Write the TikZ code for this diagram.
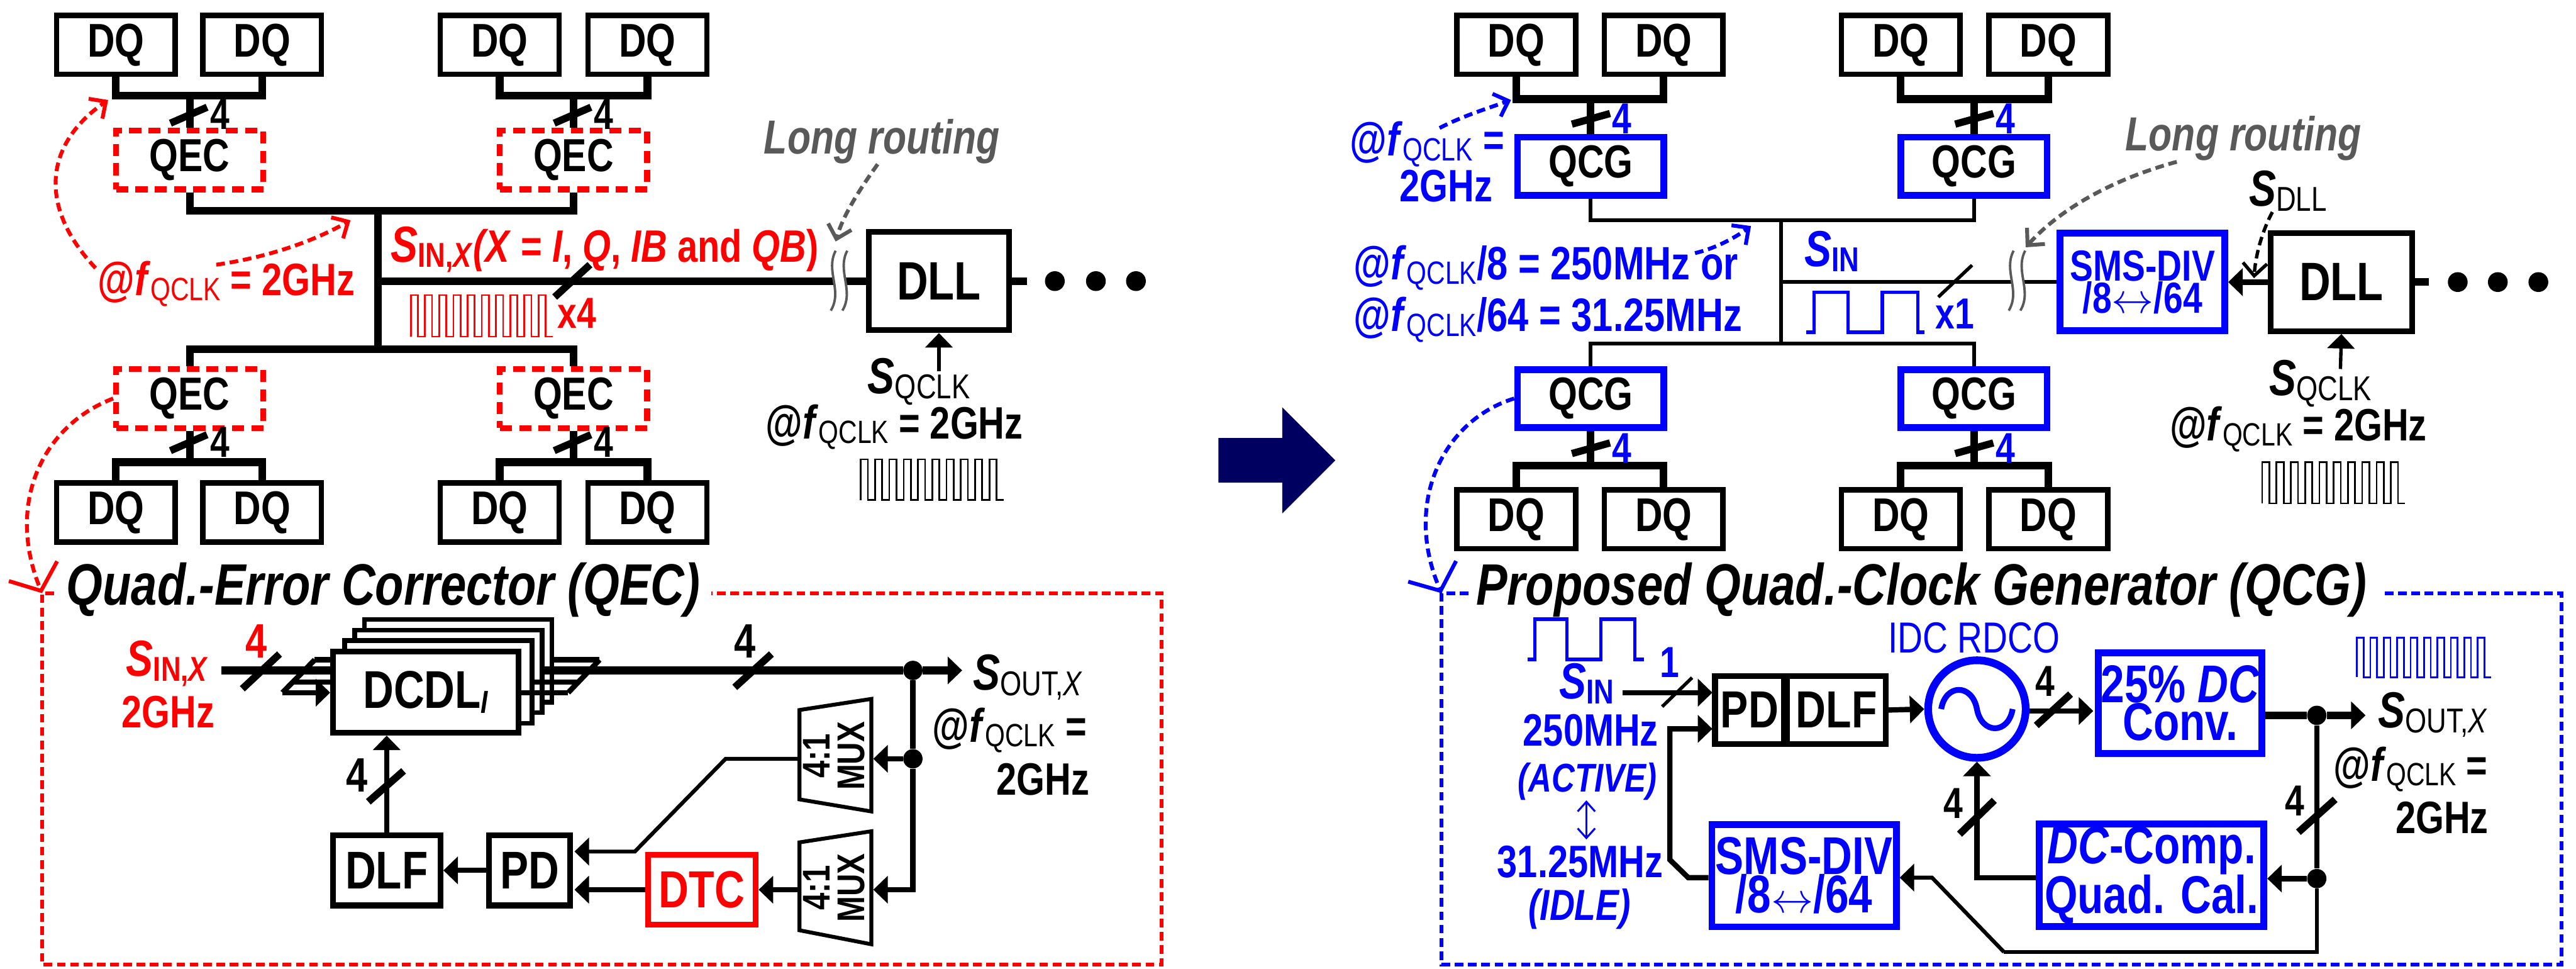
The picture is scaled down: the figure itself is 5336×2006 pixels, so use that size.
\documentclass[tikz,border=0pt]{standalone}
\usepackage{fontspec}
\usetikzlibrary{arrows.meta,calc}
\setmainfont[FakeStretch=0.8]{Liberation Sans}
\newdimen\pxu
\pxu=0.1mm
\newcommand{\pxfont}[1]{\fontsize{#1\pxu}{#1\pxu}\selectfont}
\newcommand{\sig}[3]{{\pxfont{#1}\textit{#2}\raisebox{-0.1em}{\pxfont{\fpeval{0.68*#1}}\mdseries#3}}}
\newcommand{\fq}[1]{{\pxfont{#1}@\textit{f}\raisebox{-0.1em}{\pxfont{\fpeval{0.68*#1}}\mdseries QCLK}}}
\newcommand{\clkwave}[5]{\draw[line width=0.35mm,#1] (#2,#3) foreach \i in {1,...,10}{ -- ++(0,#4) -- ++(#5,0) -- ++(0,-#4) -- ++(#5,0)};}
\newcommand{\wirebreak}[1]{
  \draw[line width=2.6mm,white] ($#1+(12,-62)$) .. controls ($#1+(-10,-20)$) and ($#1+(27,20)$) .. ($#1+(2,62)$);
  \draw[line width=0.5mm,draw=routegray] ($#1+(0,-62)$) .. controls ($#1+(-22,-20)$) and ($#1+(15,20)$) .. ($#1+(-10,62)$);
  \draw[line width=0.5mm,draw=routegray] ($#1+(24,-62)$) .. controls ($#1+(2,-20)$) and ($#1+(39,20)$) .. ($#1+(14,62)$);
}
\definecolor{routegray}{HTML}{595959}
\definecolor{qred}{HTML}{FF0000}
\definecolor{qblue}{HTML}{0000FF}
\definecolor{qnavy}{HTML}{000060}
\tikzset{
  >={Triangle[length=3mm,width=5.6mm]},
  openhead/.style={-{Straight Barb[length=2.6mm,width=5mm]}},
  widehead/.style={-{Straight Barb[length=4.4mm,width=10.8mm]}},
  dqbox/.style={draw,line width=1.1mm,fill=white,minimum width=24.6mm,minimum height=12.2mm,inner sep=0pt,font=\pxfont{98}\bfseries},
  qecbox/.style={draw=qred,line width=1.2mm,dash pattern=on 2.5mm off 1.5mm,minimum width=30.5mm,minimum height=12.2mm,inner sep=0pt,font=\pxfont{96}\bfseries},
  qcgbox/.style={draw=qblue,line width=1.4mm,minimum width=30.3mm,minimum height=12mm,inner sep=0pt,font=\pxfont{96}\bfseries},
  blockbox/.style={draw,line width=1.2mm,fill=white,inner sep=0pt,align=center,font=\pxfont{110}\bfseries},
  blueblock/.style={draw=qblue,text=qblue,line width=1.4mm,inner sep=0pt,align=center},
  thickbus/.style={line width=1.6mm},
  thinbus/.style={line width=0.8mm},
  wire/.style={line width=1.1mm},
  thinwire/.style={line width=0.7mm},
  tickbold/.style={line width=1.5mm},
  tickthin/.style={line width=0.7mm},
  lbl/.style={inner sep=0pt,anchor=base west,font=\bfseries},
  num/.style={inner sep=0pt,font=\pxfont{90}\bfseries},
  dot/.style={circle,fill,inner sep=0pt,minimum size=4mm},
  reddash/.style={draw=qred,line width=0.8mm,dash pattern=on 1.8mm off 1mm},
  bluedash/.style={draw=qblue,line width=0.8mm,dash pattern=on 1.8mm off 1mm},
  graydash/.style={draw=routegray,line width=0.8mm,dash pattern=on 1.8mm off 1mm},
  frameline/.style={line width=0.8mm,dash pattern=on 1.8mm off 0.95mm}
}
\begin{document}
\begin{tikzpicture}[x=0.1mm,y=-0.1mm]
  \useasboundingbox (0,0) rectangle (5336,2006);

  \node[dqbox] (dqa) at (240,93) {DQ};
  \node[dqbox] (dqb) at (543,93) {DQ};
  \node[dqbox] (dqc) at (1035,93) {DQ};
  \node[dqbox] (dqd) at (1341,93) {DQ};
  \node[dqbox] (dqe) at (240,1061) {DQ};
  \node[dqbox] (dqf) at (543,1061) {DQ};
  \node[dqbox] (dqg) at (1035,1061) {DQ};
  \node[dqbox] (dqh) at (1341,1061) {DQ};
  \node[qecbox] (qeca) at (393,331) {QEC};
  \node[qecbox] (qecb) at (1188,331) {QEC};
  \node[qecbox] (qecc) at (393,825) {QEC};
  \node[qecbox] (qecd) at (1188,825) {QEC};
  \coordinate (busa) at (393,198);
  \coordinate (busb) at (1188,198);
  \coordinate (busc) at (393,957);
  \coordinate (busd) at (1188,957);
  \coordinate (spinetop) at (783,436);
  \coordinate (spinebot) at (783,723);
  \coordinate (spinemid) at (783,582);
  \node[blockbox,minimum width=29.1mm,minimum height=20.3mm,font=\pxfont{112}\bfseries] (dlla) at (1945,582) {DLL};
  \draw[thickbus] (dqa.south) |- (busa) -| (dqb.south);
  \draw[thickbus] (dqc.south) |- (busb) -| (dqd.south);
  \draw[thickbus] (dqe.north) |- (busc) -| (dqf.north);
  \draw[thickbus] (dqg.north) |- (busd) -| (dqh.north);
  \draw[thickbus] (busa) -- (qeca.north);
  \draw[thickbus] (busb) -- (qecb.north);
  \draw[thickbus] (busc) -- (qecc.south);
  \draw[thickbus] (busd) -- (qecd.south);
  \draw[thickbus] (qeca.south) |- (spinetop) -| (qecb.south);
  \draw[thickbus] (qecc.north) |- (spinebot) -| (qecd.north);
  \draw[thickbus] (spinetop) -- (spinebot);
  \draw[thickbus] (spinemid) -- (dlla.west);
  \wirebreak{(1731,581)}
  \draw[tickbold] (353,255) -- (429,222);
  \draw[tickbold] (1148,255) -- (1224,222);
  \draw[tickbold] (353,933) -- (429,900);
  \draw[tickbold] (1148,933) -- (1224,900);
  \draw[tickbold] (1149,615) -- (1222,548);
  \node[num] (nama) at (456,237) {4};
  \node[num] (namb) at (1251,237) {4};
  \node[num] (namc) at (456,915) {4};
  \node[num] (namd) at (1251,915) {4};
  \node[lbl,text=qred] (sinx) at (809,542) {\sig{105}{S}{\bfseries IN,\textit{X}}{\pxfont{94}\textit{(X} = \textit{I}, \textit{Q}, \textit{IB} and \textit{QB})}};
  \node[lbl,text=qred] (fqred) at (202,612) {\fq{98}{\pxfont{94} = 2GHz}};
  \clkwave{draw=qred}{851}{697}{-86}{14.7}
  \node[num,text=qred] (xfour) at (1195,648) {x4};
  \draw[reddash,openhead] (198,555) .. controls (80,430) and (90,300) .. (224,207);
  \draw[reddash,openhead] (448,548) .. controls (540,535) and (640,505) .. (726,456);
  \coordinate (framecorna) at (87,1228);
  \draw[reddash,widehead] (qecc.west) .. controls (90,880) and (10,1040) .. (framecorna);
  \draw[thickbus] (dlla.east) -- (2127,582);
  \node[dot,minimum size=4.1mm] (dota) at (2185,582) {};
  \node[dot,minimum size=4.1mm] (dotb) at (2270,582) {};
  \node[dot,minimum size=4.1mm] (dotc) at (2353,582) {};
  \node[lbl,text=routegray] (routea) at (1582,318) {\pxfont{99}\textit{Long routing}};
  \draw[graydash,openhead] (1818,340) .. controls (1775,400) and (1745,450) .. (1731,500);
  \coordinate (sqa) at (1945,768);
  \draw[thinwire,->] (sqa) -- (dlla.south);
  \node[lbl] (sqclka) at (1797,815) {\sig{105}{S}{QCLK}};
  \node[lbl] (fqa) at (1586,908) {\fq{98}{\pxfont{94} = 2GHz}};
  \clkwave{draw=black}{1783}{1035}{-84}{14.8}

  \coordinate (sinl) at (458,1388);
  \coordinate (fanlc) at (652,1366);
  \coordinate (fanlb) at (607,1412);
  \coordinate (fanla) at (585,1434);
  \coordinate (fanrc) at (1242,1366);
  \coordinate (fanrb) at (1198,1412);
  \coordinate (fanra) at (1177,1434);
  \coordinate (soutl) at (1993,1388);
  \node[dot] (outdota) at (1891,1388) {};
  \node[dot] (outdotb) at (1891,1571) {};
  \draw[wire] (fanlc) -- (fanla);
  \draw[wire] (fanlc) -- (690,1366);
  \draw[wire] (fanlb) -- (690,1412);
  \draw[thickbus] (sinl) -- (690,1388);
  \node[blockbox,line width=1mm,minimum width=38.8mm,minimum height=17.1mm] (dcdld) at (949,1368) {};
  \node[blockbox,line width=1mm,minimum width=38.8mm,minimum height=17.1mm] (dcdlc) at (929,1390) {};
  \node[blockbox,line width=1mm,minimum width=38.8mm,minimum height=17.1mm] (dcdlb) at (908,1412) {};
  \node[blockbox,minimum width=38.4mm,minimum height=16.8mm] (dcdla) at (882,1433) {DCDL\raisebox{-0.1em}{\pxfont{66}\textit{I}}};
  \draw[wire,->] (fanla) -- (dcdla.west |- fanla);
  \draw[wire] (dcdla.east |- fanra) -- (fanra);
  \draw[wire] (dcdlb.east |- fanrb) -- (fanrb);
  \draw[wire] (dcdld.east |- fanrc) -- (fanrc);
  \draw[wire] (fanrc) -- (fanra);
  \draw[thickbus] (dcdlc.east |- soutl) -- (outdota);
  \draw[thickbus,->] (outdota) -- (soutl);
  \draw[tickbold] (502,1426) -- (579,1354);
  \node[num,text=qred,font=\pxfont{100}\bfseries] (namin) at (531,1328) {4};
  \draw[tickbold] (1522,1423) -- (1598,1354);
  \node[num,font=\pxfont{100}\bfseries] (namout) at (1543,1328) {4};
  \node[lbl,text=qred] (sinxb) at (261,1400) {\sig{105}{S}{\bfseries IN,\textit{X}}};
  \node[lbl,text=qred,anchor=base] (ghzin) at (348,1507) {\pxfont{94}2GHz};
  \node[lbl] (soutb) at (2015,1429) {\sig{105}{S}{OUT,\textit{X}}};
  \node[lbl] (fqb) at (1931,1536) {\fq{98}{\pxfont{94} =}};
  \node[lbl,anchor=base east] (ghzb) at (2257,1646) {\pxfont{94}2GHz};
  \node[blockbox,minimum width=22.3mm,minimum height=14.5mm] (dlfa) at (801,1802) {DLF};
  \node[blockbox,minimum width=16.8mm,minimum height=14.5mm] (pda) at (1097,1802) {PD};
  \node[blockbox,draw=qred,text=qred,minimum width=22.3mm,minimum height=14.4mm,font=\pxfont{108}\bfseries] (dtc) at (1454,1842) {DTC};
  \draw[line width=0.8mm,fill=white] (1656,1470) -- (1805,1447) -- (1805,1680) -- (1656,1655) -- cycle;
  \draw[line width=0.8mm,fill=white] (1656,1744) -- (1805,1721) -- (1805,1955) -- (1656,1926) -- cycle;
  \node[inner sep=0pt,rotate=90,align=center,font=\pxfont{80}\bfseries] (muxa) at (1728,1565) {4:1\\[-0.1em]MUX};
  \node[inner sep=0pt,rotate=90,align=center,font=\pxfont{80}\bfseries] (muxb) at (1728,1838) {4:1\\[-0.1em]MUX};
  \coordinate (muxain) at (1809,1571);
  \coordinate (muxaout) at (1656,1571);
  \coordinate (muxbin) at (1809,1842);
  \coordinate (muxbout) at (1656,1842);
  \coordinate (benda) at (1503,1571);
  \coordinate (bendb) at (1315,1763);
  \coordinate (pdupper) at (1190,1763);
  \coordinate (pdlower) at (1190,1842);
  \draw[wire,->] (outdotb) -- (muxain);
  \draw[wire] (outdota) -- (outdotb);
  \draw[wire,->] (outdotb) |- (muxbin);
  \draw[wire,->] (muxbout) -- (dtc.east);
  \draw[wire,->] (dtc.west) -- (pdlower);
  \draw[line width=0.8mm,->] (muxaout) -- (benda) -- (bendb) -- (pdupper);
  \draw[wire,->] (pda.west) -- (dlfa.east);
  \draw[wire,->] (dlfa.north) -- (dlfa.north |- dcdla.south);
  \draw[tickbold] (763,1660) -- (836,1596);
  \node[num,font=\pxfont{100}\bfseries] (namfb) at (740,1605) {4};
  \node[lbl,font=\pxfont{121}\bfseries\itshape] (qectitle) at (137,1253) {Quad.-Error Corrector (QEC)};
  \draw[frameline,draw=qred] (112,1228) -- (framecorna) -- (87,1997) -- (2406,1997) -- (2406,1228) -- (1474,1228);

  \fill[qnavy] (2524,907) -- (2656,907) -- (2656,843) -- (2766,953) -- (2656,1063) -- (2656,999) -- (2524,999) -- cycle;

  \node[dqbox] (dqra) at (3141,93) {DQ};
  \node[dqbox] (dqrb) at (3446,93) {DQ};
  \node[dqbox] (dqrc) at (3937,93) {DQ};
  \node[dqbox] (dqrd) at (4243,93) {DQ};
  \node[dqbox] (dqre) at (3141,1075) {DQ};
  \node[dqbox] (dqrf) at (3446,1075) {DQ};
  \node[dqbox] (dqrg) at (3937,1075) {DQ};
  \node[dqbox] (dqrh) at (4243,1075) {DQ};
  \node[qcgbox] (qcga) at (3295,344) {QCG};
  \node[qcgbox] (qcgb) at (4089,344) {QCG};
  \node[qcgbox] (qcgc) at (3295,825) {QCG};
  \node[qcgbox] (qcgd) at (4089,825) {QCG};
  \coordinate (busra) at (3295,205);
  \coordinate (busrb) at (4089,205);
  \coordinate (busrc) at (3295,964);
  \coordinate (busrd) at (4089,964);
  \coordinate (sprtop) at (3689,456);
  \coordinate (sprbot) at (3689,711);
  \coordinate (sprmid) at (3689,584);
  \node[blueblock,minimum width=34.1mm,minimum height=20.2mm] (smsa) at (4438,584) {\pxfont{90}\bfseries SMS-DIV\\[-0.08em]\pxfont{90}\bfseries/8$\leftrightarrow$/64};
  \node[blockbox,minimum width=29.4mm,minimum height=20.3mm,font=\pxfont{112}\bfseries] (dllb) at (4850,584) {DLL};
  \draw[thickbus] (dqra.south) |- (busra) -| (dqrb.south);
  \draw[thickbus] (dqrc.south) |- (busrb) -| (dqrd.south);
  \draw[thickbus] (dqre.north) |- (busrc) -| (dqrf.north);
  \draw[thickbus] (dqrg.north) |- (busrd) -| (dqrh.north);
  \draw[thickbus] (busra) -- (qcga.north);
  \draw[thickbus] (busrb) -- (qcgb.north);
  \draw[thickbus] (busrc) -- (qcgc.south);
  \draw[thickbus] (busrd) -- (qcgd.south);
  \draw[thinbus] (qcga.south) |- (sprtop) -| (qcgb.south);
  \draw[thinbus] (qcgc.north) |- (sprbot) -| (qcgd.north);
  \draw[thinbus] (sprtop) -- (sprbot);
  \draw[thinbus] (sprmid) -- (smsa.west);
  \wirebreak{(4171,581)}
  \draw[wire,->] (dllb.west) -- (smsa.east);
  \draw[thickbus] (dllb.east) -- (5031,584);
  \node[dot,minimum size=4.1mm] (dotd) at (5091,584) {};
  \node[dot,minimum size=4.1mm] (dote) at (5174,584) {};
  \node[dot,minimum size=4.1mm] (dotf) at (5258,584) {};
  \draw[tickbold] (3256,257) -- (3335,235);
  \draw[tickbold] (4050,257) -- (4129,235);
  \draw[tickbold] (3256,939) -- (3335,917);
  \draw[tickbold] (4050,939) -- (4129,917);
  \draw[tickthin] (4015,615) -- (4085,549);
  \node[num,text=qblue] (namra) at (3360,246) {4};
  \node[num,text=qblue] (namrb) at (4154,246) {4};
  \node[num,text=qblue] (namrc) at (3360,928) {4};
  \node[num,text=qblue] (namrd) at (4154,928) {4};
  \node[lbl,text=qblue] (sintop) at (3737,552) {\sig{105}{S}{\bfseries IN}};
  \draw[line width=0.7mm,draw=qblue] (3741,688) -- (3758,688) -- (3758,605) -- (3828,605) -- (3828,688) -- (3899,688) -- (3899,605) -- (3973,605) -- (3973,688) -- (3986,688);
  \node[num,text=qblue] (xone) at (4049,650) {x1};
  \node[lbl,text=qblue] (fqblue) at (2796,323) {\fq{98}{\pxfont{94} =}};
  \node[lbl,text=qblue,anchor=base east] (ghzblue) at (3092,418) {\pxfont{94}2GHz};
  \node[lbl,text=qblue] (fqeight) at (2804,579) {\fq{98}{\pxfont{97}/8 = 250MHz or}};
  \node[lbl,text=qblue] (fqsixfour) at (2804,686) {\fq{98}{\pxfont{97}/64 = 31.25MHz}};
  \draw[bluedash,openhead] (2982,265) .. controls (3030,240) and (3080,225) .. (3130,207);
  \draw[bluedash,openhead] (3511,524) .. controls (3550,515) and (3590,495) .. (3627,468);
  \coordinate (framecornb) at (2986,1228);
  \draw[bluedash,widehead] (qcgc.west) .. controls (2990,870) and (2905,1040) .. (framecornb);
  \node[lbl,text=routegray] (routeb) at (4402,312) {\pxfont{99}\textit{Long routing}};
  \draw[graydash,openhead] (4509,335) .. controls (4380,370) and (4270,430) .. (4196,512);
  \node[lbl] (sdll) at (4658,426) {\sig{105}{S}{DLL}};
  \draw[line width=0.7mm,dash pattern=on 1.8mm off 1mm,openhead] (4707,439) .. controls (4685,480) and (4672,530) .. (4669,576);
  \coordinate (sqb) at (4848,764);
  \draw[thinwire,->] (sqb) -- (dllb.south);
  \node[lbl] (sqclkb) at (4700,819) {\sig{105}{S}{QCLK}};
  \node[lbl] (fqc) at (4494,913) {\fq{98}{\pxfont{94} = 2GHz}};
  \clkwave{draw=black}{4686}{1042}{-85}{14.8}

  \draw[line width=0.7mm,draw=qblue] (3164,1365) -- (3179,1365) -- (3179,1282) -- (3246,1282) -- (3246,1365) -- (3316,1365) -- (3316,1282) -- (3386,1282) -- (3386,1365) -- (3405,1365);
  \node[lbl,text=qblue] (sinb) at (3229,1447) {\sig{105}{S}{\bfseries IN}};
  \node[lbl,text=qblue,anchor=base] (activef) at (3295,1545) {\pxfont{94}250MHz};
  \node[lbl,text=qblue,anchor=base] (activet) at (3288,1640) {\pxfont{83}\textit{(ACTIVE)}};
  \node[lbl,text=qblue,anchor=base] (idlef) at (3273,1816) {\pxfont{94}31.25MHz};
  \node[lbl,text=qblue,anchor=base] (idlet) at (3272,1905) {\pxfont{90}\textit{(IDLE)}};
  \coordinate (updowna) at (3286,1657);
  \coordinate (updownb) at (3286,1738);
  \draw[line width=0.4mm,draw=qblue,{Straight Barb[length=2mm,width=3.6mm]}-{Straight Barb[length=2mm,width=3.6mm]}] (updowna) -- (updownb);
  \node[blockbox,minimum width=14.3mm,minimum height=14mm,font=\pxfont{108}\bfseries] (pdb) at (3624,1470) {PD};
  \node[blockbox,minimum width=20.4mm,minimum height=14mm,font=\pxfont{108}\bfseries] (dlfb) at (3804,1470) {DLF};
  \node[circle,draw=qblue,line width=1.6mm,minimum size=20.2mm,inner sep=0pt] (rdco) at (4095,1468) {};
  \draw[line width=1.2mm,draw=qblue] (4021,1468) .. controls (4030,1415) and (4085,1415) .. (4095,1468) .. controls (4105,1521) and (4160,1521) .. (4169,1468);
  \node[lbl,text=qblue,anchor=base] (idcrdco) at (4089,1352) {\pxfont{90}\mdseries IDC RDCO};
  \node[blueblock,minimum width=33.9mm,minimum height=20.8mm] (dcconv) at (4516,1456) {\pxfont{110}\bfseries 25\% \textit{DC}\\[-0.1em]\pxfont{110}\bfseries Conv.};
  \node[blueblock,minimum width=46.5mm,minimum height=21.2mm] (dccomp) at (4457,1812) {\pxfont{110}\bfseries \textit{DC}-Comp.\\[-0.08em]\pxfont{110}\bfseries Quad. Cal.};
  \node[blueblock,minimum width=38.2mm,minimum height=21.2mm] (smsb) at (3737,1813) {\pxfont{110}\bfseries SMS-DIV\\[-0.14em]\pxfont{110}\bfseries/8$\leftrightarrow$/64};
  \coordinate (sinin) at (3361,1434);
  \coordinate (pdin) at (3547,1434);
  \coordinate (pdfb) at (3547,1509);
  \coordinate (fba) at (3459,1509);
  \coordinate (fbb) at (3459,1780);
  \coordinate (fbc) at (3497,1817);
  \coordinate (smsin) at (4002,1817);
  \coordinate (fbd) at (4151,1971);
  \coordinate (fbe) at (4799,1971);
  \coordinate (soutr) at (4900,1481);
  \coordinate (compturn) at (4095,1817);
  \coordinate (dcin) at (4336,1472);
  \node[dot] (outdotc) at (4799,1481) {};
  \node[dot] (outdotd) at (4799,1819) {};
  \draw[wire,->] (sinin) -- (pdin);
  \draw[wire,->] (smsb.west |- fbc) -- (fbc) -- (fbb) -- (fba) -- (pdfb);
  \draw[wire,->] (dlfb.east) -- (rdco.west);
  \draw[wire,->] (rdco.east |- dcin) -- (dcin);
  \draw[thickbus] (dcconv.east |- soutr) -- (outdotc);
  \draw[thickbus,->] (outdotc) -- (soutr);
  \draw[wire] (outdotc) -- (outdotd);
  \draw[wire,->] (outdotd) -- (dccomp.east |- outdotd);
  \draw[line width=0.8mm] (outdotd) |- (fbd);
  \draw[line width=0.8mm,->] (fbd) -- (smsin) -- (smsb.east |- smsin);
  \draw[wire,->] (dccomp.west |- compturn) -| (rdco.south);
  \draw[tickthin] (3443,1463) -- (3505,1403);
  \draw[tickbold] (4218,1502) -- (4289,1437);
  \draw[tickbold] (4059,1727) -- (4131,1657);
  \draw[tickbold] (4761,1723) -- (4837,1655);
  \node[num,text=qblue] (namone) at (3459,1372) {1};
  \node[num] (nampa) at (4236,1411) {4};
  \node[num] (nampb) at (4046,1663) {4};
  \node[num] (nampc) at (4754,1658) {4};
  \clkwave{draw=qblue}{4882}{1402}{-82}{13.9}
  \node[lbl] (soutc) at (4926,1507) {\sig{105}{S}{OUT,\textit{X}}};
  \node[lbl] (fqd) at (4833,1617) {\fq{98}{\pxfont{94} =}};
  \node[lbl,anchor=base east] (ghzc) at (5155,1726) {\pxfont{94}2GHz};
  \node[lbl,font=\pxfont{121}\bfseries\itshape] (qcgtitle) at (3057,1253) {Proposed Quad.-Clock Generator (QCG)};
  \draw[frameline,draw=qblue] (3042,1228) -- (framecornb) -- (2986,1997) -- (5306,1997) -- (5306,1228) -- (4933,1228);
\end{tikzpicture}
\end{document}
